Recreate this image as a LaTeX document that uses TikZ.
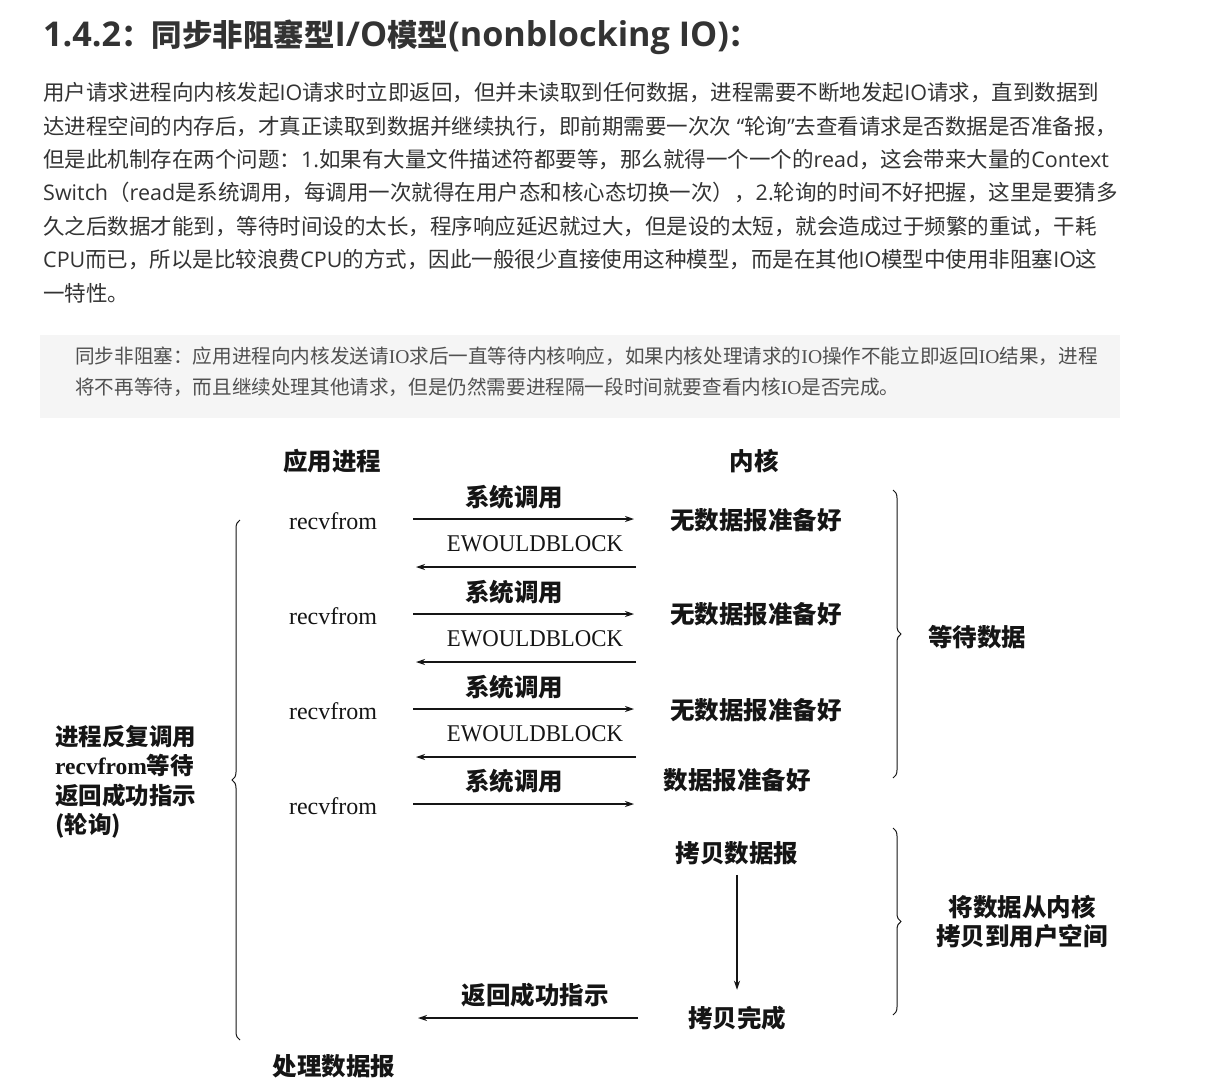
\documentclass[tikz,border=0pt]{standalone}
\usepackage{fontspec}
\setmainfont{Noto Sans CJK SC}
\newfontfamily\serifl{Liberation Serif}
\newfontfamily\os{Open Sans}
\newfontfamily\ost{Open Sans}[Scale=1.12]
\usetikzlibrary{arrows.meta,decorations.pathreplacing}
\definecolor{txt}{HTML}{333333}
\definecolor{boxtxt}{HTML}{505050}
\definecolor{boxbg}{HTML}{F5F5F5}
\definecolor{ink}{HTML}{151515}
\tikzset{
  title/.style={anchor=west, inner sep=0, text=txt, font=\fontsize{30.5}{36}\selectfont\bfseries},
  body/.style={anchor=west, inner sep=0, text=txt, text height=0.8em, text depth=0.2em, font=\fontsize{21.5}{25}\selectfont},
  note/.style={anchor=west, inner sep=0, text=boxtxt, text height=0.8em, text depth=0.2em, font=\fontsize{19.6}{23}\selectfont},
  cjk/.style={inner sep=0, text=ink, font=\fontsize{24.5}{29}\selectfont\bfseries},
  lat/.style={inner sep=0, text=ink, font=\fontsize{24}{29}\selectfont\serifl},
  latc/.style={inner sep=0, text=ink, xscale=0.95, font=\fontsize{24}{29}\selectfont\serifl},
  multi/.style={inner sep=0, text=ink, align=left, font=\fontsize{23.5}{29.5}\selectfont\bfseries},
  arr/.style={draw=ink, line width=1.3pt, -{Stealth[length=9pt,width=6pt]}},
  brc/.style={draw=ink, line width=1pt, decorate, decoration={brace, amplitude=8pt}}
}
\begin{document}
\begin{tikzpicture}[x=1pt,y=-1pt]
\path[use as bounding box, fill=white] (0,0) rectangle (1228,1090);

\node[title] (t) at (43,37) {{\ost 1.4.2}：同步非阻塞型{\ost I/O}模型{\ost (nonblocking IO)}：};

\node[body] (p1) at (43,97) {用户请求进程向内核发起{\os IO}请求时立即返回，但并未读取到任何数据，进程需要不断地发起{\os IO}请求，直到数据到};
\node[body] (p2) at (43,131) {达进程空间的内存后，才真正读取到数据并继续执行，即前期需要一次次{\os\ “}轮询{\os ”}去查看请求是否数据是否准备报，};
\node[body] (p3) at (43,164) {但是此机制存在两个问题：{\os 1.}如果有大量文件描述符都要等，那么就得一个一个的{\os read}，这会带来大量的{\os Context}};
\node[body] (p4) at (43,197) {{\os Switch}（{\os read}是系统调用，每调用一次就得在用户态和核心态切换一次），{\os 2.}轮询的时间不好把握，这里是要猜多};
\node[body] (p5) at (43,231) {久之后数据才能到，等待时间设的太长，程序响应延迟就过大，但是设的太短，就会造成过于频繁的重试，干耗};
\node[body] (p6) at (43,264) {{\os CPU}而已，所以是比较浪费{\os CPU}的方式，因此一般很少直接使用这种模型，而是在其他{\os IO}模型中使用非阻塞{\os IO}这};
\node[body] (p7) at (43,298) {一特性。};

\fill[boxbg] (40,335) rectangle (1120,418);
\node[note] (n1) at (75,360) {同步非阻塞：应用进程向内核发送请{\serifl IO}求后一直等待内核响应，如果内核处理请求的{\serifl IO}操作不能立即返回{\serifl IO}结果，进程};
\node[note] (n2) at (75,391) {将不再等待，而且继续处理其他请求，但是仍然需要进程隔一段时间就要查看内核{\serifl IO}是否完成。};

% headers
\node[cjk] (hApp) at (332,461) {应用进程};
\node[cjk] (hKer) at (754,461) {内核};

% row 1
\node[lat] (r1) at (333,521) {recvfrom};
\node[cjk] (s1) at (514,497) {系统调用};
\node[cjk] (k1) at (756,520) {无数据报准备好};
\node[latc] (e1) at (535,544) {EWOULDBLOCK};
\coordinate (a1s) at (413,519); \coordinate (a1e) at (634,519);
\coordinate (b1s) at (636,567); \coordinate (b1e) at (416,567);
\draw[arr] (a1s) -- (a1e);
\draw[arr] (b1s) -- (b1e);

% row 2
\node[lat] (r2) at (333,616) {recvfrom};
\node[cjk] (s2) at (514,592) {系统调用};
\node[cjk] (k2) at (756,614) {无数据报准备好};
\node[latc] (e2) at (535,639) {EWOULDBLOCK};
\coordinate (a2s) at (413,614); \coordinate (a2e) at (634,614);
\coordinate (b2s) at (636,662); \coordinate (b2e) at (416,662);
\draw[arr] (a2s) -- (a2e);
\draw[arr] (b2s) -- (b2e);

% row 3
\node[lat] (r3) at (333,711) {recvfrom};
\node[cjk] (s3) at (514,687) {系统调用};
\node[cjk] (k3) at (756,710) {无数据报准备好};
\node[latc] (e3) at (535,734) {EWOULDBLOCK};
\coordinate (a3s) at (413,709); \coordinate (a3e) at (634,709);
\coordinate (b3s) at (636,757); \coordinate (b3e) at (416,757);
\draw[arr] (a3s) -- (a3e);
\draw[arr] (b3s) -- (b3e);

% row 4
\node[lat] (r4) at (333,806) {recvfrom};
\node[cjk] (s4) at (514,781) {系统调用};
\node[cjk] (k4) at (737,780) {数据报准备好};
\coordinate (a4s) at (413,804); \coordinate (a4e) at (634,804);
\draw[arr] (a4s) -- (a4e);

% copy
\node[cjk] (c1) at (737,853) {拷贝数据报};
\node[cjk] (c2) at (737,1018) {拷贝完成};
\draw[arr] ([yshift=-10pt]c1.south) -- ([yshift=16pt]c2.north);
\node[cjk] (ret) at (535,995) {返回成功指示};
\coordinate (rs) at (638,1018); \coordinate (re) at (418,1018);
\draw[arr] (rs) -- (re);
\node[cjk] (proc) at (334,1066) {处理数据报};

% braces
\coordinate (lbB) at (240,1040); \coordinate (lbT) at (240,520);
\draw[brc] (lbB) -- (lbT);
\node[multi, anchor=north west] (lt) at (55,725) {进程反复调用\\{\serifl\bfseries recvfrom}等待\\返回成功指示\\(轮询)};

\coordinate (rb1T) at (893,490); \coordinate (rb1B) at (893,778);
\draw[brc] (rb1T) -- (rb1B);
\node[cjk] (w) at (977,637) {等待数据};

\coordinate (rb2T) at (893,828); \coordinate (rb2B) at (893,1015);
\draw[brc] (rb2T) -- (rb2B);
\node[cjk, align=center] (cp) at (1022,922) {将数据从内核\\拷贝到用户空间};
\end{tikzpicture}
\end{document}
